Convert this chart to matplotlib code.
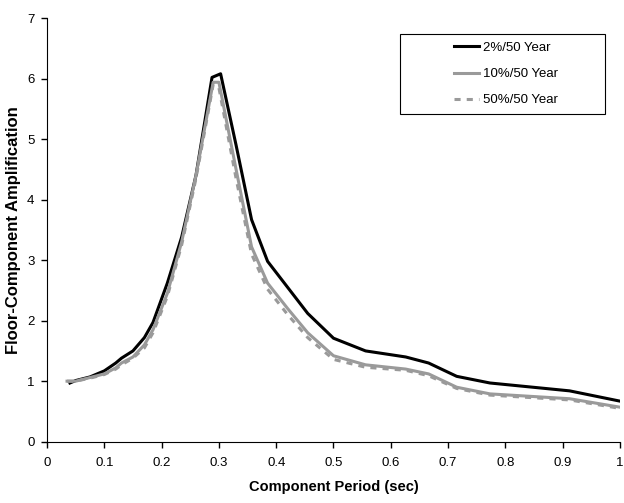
import matplotlib
matplotlib.use("Agg")
import matplotlib.pyplot as plt
from matplotlib.patches import Rectangle

plt.rcParams['font.family'] = ['Liberation Sans', 'DejaVu Sans']

# Floor amplification vs component period
period_2 = [0.04, 0.05, 0.075, 0.10, 0.12, 0.13, 0.15, 0.17, 0.185, 0.21, 0.235, 0.26,
            0.288, 0.303, 0.33, 0.357, 0.385, 0.42, 0.455, 0.50, 0.556, 0.626, 0.666,
            0.715, 0.773, 0.912, 1.0]
amp_2 = [0.97, 1.01, 1.07, 1.17, 1.30, 1.38, 1.50, 1.72, 1.97, 2.62, 3.38, 4.40,
         6.02, 6.08, 4.90, 3.67, 2.98, 2.55, 2.12, 1.71, 1.50, 1.40, 1.30,
         1.08, 0.97, 0.84, 0.67]

period_10 = [0.035, 0.05, 0.075, 0.10, 0.12, 0.13, 0.15, 0.17, 0.185, 0.21, 0.235, 0.26,
             0.29, 0.30, 0.33, 0.357, 0.385, 0.42, 0.455, 0.50, 0.556, 0.626, 0.666,
             0.715, 0.773, 0.912, 1.0]
amp_10 = [1.00, 1.00, 1.06, 1.12, 1.22, 1.30, 1.40, 1.60, 1.85, 2.45, 3.30, 4.40,
          5.94, 5.94, 4.50, 3.22, 2.62, 2.20, 1.80, 1.42, 1.27, 1.20, 1.12,
          0.90, 0.79, 0.71, 0.57]

period_50 = period_10
amp_50 = [1.00, 1.00, 1.05, 1.11, 1.20, 1.27, 1.38, 1.55, 1.80, 2.40, 3.25, 4.35,
          5.90, 5.85, 4.35, 3.10, 2.52, 2.10, 1.72, 1.36, 1.23, 1.18, 1.09,
          0.88, 0.77, 0.69, 0.55]

xtick_labels = ['0', '0.1', '0.2', '0.3', '0.4', '0.5', '0.6', '0.7', '0.8', '0.9', '1']

fig = plt.figure(figsize=(6.24, 5.03), dpi=100)
ax = fig.add_axes([0.0753, 0.1219, 0.9183, 0.8421])

gray = '#9a9a9a'
ax.plot(period_2, amp_2, color='black', lw=2.2, label='2%/50 Year')
ax.plot(period_10, amp_10, color=gray, lw=2.2, label='10%/50 Year')
ax.plot(period_50, amp_50, color=gray, lw=2.2, dashes=(2, 2), label='50%/50 Year')

ax.set_xlim(0, 1)
ax.set_ylim(0, 7)
ax.set_xticks([i / 10 for i in range(11)])
ax.set_xticklabels(xtick_labels)
ax.set_yticks(range(8))
ax.tick_params(labelsize=9.5, direction='out', length=4, width=1)
ax.tick_params(axis='x', pad=7)
ax.tick_params(axis='y', pad=5)
ax.spines['top'].set_visible(False)
ax.spines['right'].set_visible(False)

ax.set_xlabel('Component Period (sec)', fontsize=10.5, fontweight='bold', labelpad=8)
ax.set_ylabel('Floor-Component Amplification', fontsize=12, fontweight='bold', labelpad=4)

# legend box drawn separately, entries placed inside it
ax.add_patch(Rectangle((0.616, 0.773), 0.357, 0.189, transform=ax.transAxes,
                       facecolor='white', edgecolor='black', lw=0.8, zorder=4))
leg = ax.legend(loc='center left', bbox_to_anchor=(0.711, 0.868), fontsize=9.5,
                frameon=False, handlelength=1.9, borderpad=0, labelspacing=1.05,
                handletextpad=0.3, borderaxespad=0)
leg.set_zorder(5)

fig.savefig('out.png', dpi=100)
